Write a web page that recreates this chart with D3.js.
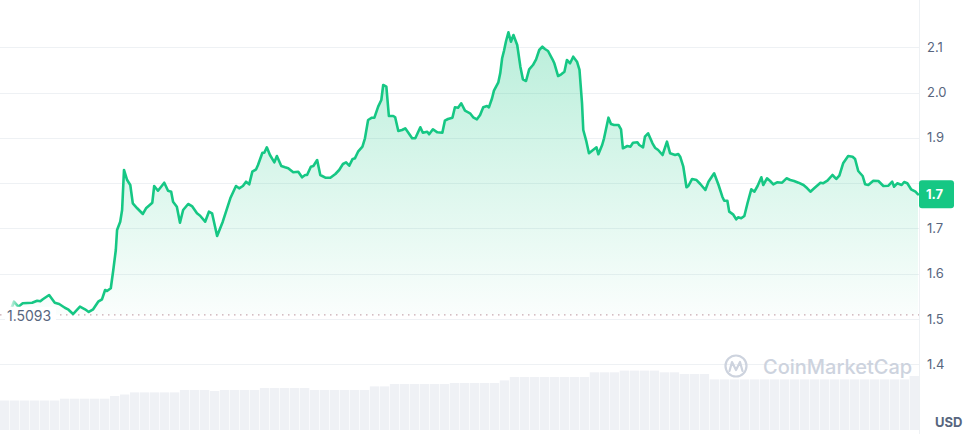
<!DOCTYPE html>
<html><head><meta charset="utf-8">
<script src="https://cdn.jsdelivr.net/npm/d3@7"></script>
<style>html,body{margin:0;padding:0;background:#fff;overflow:hidden}svg{display:block;font-family:Inter,"Noto Sans",sans-serif}</style>
</head><body><svg id="c" width="970" height="434"></svg>
<script>
// minutes since start of the 24h window
const times = [0,3,10,17,32,40,45,49,59,68,75,84,89,97,108,116,122,129,137,143,148,151,157,161,165,167,172,175,178,183,188,192,199,208,213,223,226,232,242,248,253,256,262,267,272,280,286,294,299,307,313,318,326,335,347,
356,361,367,372,377,382,388,391,398,401,405,410,417,421,428,434,439,447,455,461,466,469,475,479,485,490,498,506,514,520,526,531,536,541,545,550,557,561,566,572,576,582,587,590,595,599,606,609,614,620,625,630,636,641,649,653,660,663,669,676,684,
688,693,700,704,709,714,720,728,733,739,744,749,755,758,763,766,773,776,779,782,785,789,793,797,803,808,812,817,822,828,833,838,843,847,852,859,862,868,873,878,882,887,892,898,902,906,908,913,917,922,929,932,938,941,948,952,957,964,968,971,978,983,987,994,997,1003,1006,1011,1018,1022,1027,1034,1041,1046,1054,1059,1062,
1067,1072,1075,1081,1088,1094,1102,1107,1113,1116,1123,1129,1132,1137,1140,1146,1151,1154,1159,1164,1169,1175,1180,1185,1191,1194,1200,1205,1210,1216,1224,1231,1237,1243,1250,1258,1264,1269,1275,1285,1289,1296,1304,1310,1315,1321,1329,1336,1340,1345,1352,1356,1361,1369,1377,1385,1393,1399,1402,1407,1414,1418,1423,1429,1436,1440];
// price in USD
const prices = [1.5272,1.5382,1.5272,1.5347,1.5360,1.5404,1.5391,1.5435,1.5530,1.5360,1.5331,1.5249,1.5214,1.5110,1.5272,1.5214,1.5155,1.5214,1.5382,1.5435,1.5640,1.5618,1.5678,1.6082,1.6523,1.6965,1.7148,1.7406,1.8289,1.8068,1.7958,1.7554,1.7444,1.7318,1.7444,1.7567,1.7936,1.7832,1.8009,1.7832,1.7810,1.7589,1.7479,1.7126,1.7406,1.7539,1.7494,1.7333,1.7280,1.7148,1.7369,1.7333,1.6832,1.7148,1.7664,
1.7936,1.7885,1.7936,1.8031,1.7973,1.8252,1.8305,1.8400,1.8671,1.8671,1.8790,1.8620,1.8459,1.8598,1.8378,1.8349,1.8327,1.8238,1.8252,1.8128,1.8179,1.8179,1.8362,1.8378,1.8510,1.8179,1.8119,1.8119,1.8201,1.8289,1.8422,1.8459,1.8384,1.8525,1.8547,1.8693,1.8804,1.8989,1.9393,1.9444,1.9444,1.9687,1.9834,2.0166,2.0128,1.9481,1.9481,1.9453,1.9150,1.9172,1.9210,1.9113,1.8989,1.8989,1.9232,1.9113,1.9135,1.9077,1.9188,1.9121,1.9113,
1.9378,1.9415,1.9444,1.9673,1.9665,1.9762,1.9598,1.9541,1.9453,1.9408,1.9503,1.9673,1.9702,1.9673,1.9872,2.0040,2.0225,2.0424,2.0755,2.0923,2.1121,2.1329,2.1121,2.1269,2.1049,2.0570,2.0291,2.0254,2.0512,2.0607,2.0733,2.0938,2.1011,2.0960,2.0916,2.0733,2.0645,2.0364,2.0402,2.0459,2.0717,2.0645,2.0790,2.0680,2.0497,1.9762,1.9172,1.8914,1.8658,1.8715,1.8790,1.8636,1.8841,1.8989,1.9444,1.9305,1.9283,1.9283,1.9188,1.8768,1.8819,1.8804,1.8892,1.8901,1.8841,1.8790,1.9024,1.9099,1.8879,1.8781,1.8731,1.8620,1.8914,1.8658,1.8620,1.8642,1.8583,
1.8362,1.7907,1.7936,1.8091,1.8068,1.7980,1.7848,1.8031,1.8157,1.8216,1.7958,1.7700,1.7611,1.7611,1.7369,1.7311,1.7201,1.7245,1.7223,1.7274,1.7554,1.7863,1.7810,1.7936,1.8128,1.7958,1.8106,1.8046,1.7973,1.8018,1.8009,1.8106,1.8068,1.8046,1.8009,1.7958,1.7885,1.7810,1.7885,1.8009,1.7996,1.8053,1.8179,1.8091,1.8163,1.8437,1.8598,1.8583,1.8532,1.8267,1.8157,1.7973,1.7958,1.8053,1.8046,1.7936,1.7943,1.8031,1.7921,1.7996,1.7958,1.8024,1.7996,1.7863,1.7810,1.7753];
// volume bars (millions USD), one per bin
const volumes = [29.5,29.5,29.5,29.5,29.5,29.5,31.3,31.3,31.3,31.3,31.3,34,35.5,37.6,37.6,37.6,37.6,37.6,40,40,40,39,40,40,40,40,42,42,42,42,42,40,40,40,40,40,40,43.6,43.6,46,46,46,46,46,46,47,47,47,47,47,49.6,53,53,53,53,53,53,53,53,57.7,57.7,57.7,59.4,59.4,59.4,59.4,57.7,57.7,56,56,56,50.6,50.6,50.6,50.6,50.6,50.6,50.6,50.6,50.6,50.6,50.6,50.6,50.6,50.6,50.6,50.6,50.6,50.6,50.6,50.6,54];
const yTicks = [1.4,1.5,1.6,1.7,1.8,1.9,2.0,2.1];
const openPrice = 1.5093;
const openLabel = "1.5093";
const lastLabel = "1.7";
const currency = "USD";
const watermark = "CoinMarketCap";

const W = 970, H = 434, plotR = 919;
const GREEN = "#16c784", GREY = "#58667e", GRID = "#eef1f4";
const svg = d3.select("#c");
const data = times.map((t,i)=>({t, p: prices[i]}));

const x = d3.scaleLinear().domain([0,1440]).range([12,918]);
const y = d3.scaleLinear().domain([1.4,2.1]).range([364.3,47.2]);
const xv = d3.scaleBand().domain(d3.range(volumes.length)).range([0,plotR]).paddingInner(0.06);
const yv = d3.scaleLinear().domain([0,60]).range([430,370]);

const defs = svg.append("defs");
const ag = defs.append("linearGradient").attr("id","ag").attr("gradientUnits","userSpaceOnUse")
  .attr("x1",0).attr("x2",0).attr("y1",y(d3.max(prices))).attr("y2",y(openPrice));
ag.append("stop").attr("offset",0).attr("stop-color",GREEN).attr("stop-opacity",0.3);
ag.append("stop").attr("offset",1).attr("stop-color",GREEN).attr("stop-opacity",0.02);
const lg = defs.append("linearGradient").attr("id","lg").attr("gradientUnits","userSpaceOnUse")
  .attr("x1",x(0)).attr("x2",x(14)).attr("y1",0).attr("y2",0);
lg.append("stop").attr("offset",0).attr("stop-color",GREEN).attr("stop-opacity",0.3);
lg.append("stop").attr("offset",1).attr("stop-color",GREEN).attr("stop-opacity",1);

// volume bars
svg.append("g").selectAll("rect").data(volumes).join("rect")
  .attr("x",(d,i)=>xv(i)).attr("width",xv.bandwidth())
  .attr("y",d=>yv(d)).attr("height",d=>yv(0)-yv(d)).attr("fill","#eff1f5");

// grid
svg.append("g").selectAll("line").data(yTicks).join("line")
  .attr("x1",0).attr("x2",plotR).attr("y1",d=>Math.round(y(d))+0.5).attr("y2",d=>Math.round(y(d))+0.5)
  .attr("stroke",GRID).attr("stroke-width",1);
svg.append("line").attr("x1",plotR+0.5).attr("x2",plotR+0.5).attr("y1",0).attr("y2",H)
  .attr("stroke",GRID);

// watermark
const wm = svg.append("g").attr("fill","none").attr("stroke","#cdd3de").attr("stroke-width",2.2).attr("stroke-linecap","round").attr("stroke-linejoin","round");
wm.append("circle").attr("cx",736).attr("cy",366).attr("r",10.5);
wm.append("path").attr("d","M729.5,371 L732,362 L736,370 L740,362 L742.5,371");
svg.append("text").attr("x",763).attr("y",374).attr("font-size",20).attr("font-weight",500)
  .attr("fill","#cdd3de").text(watermark);

// area + line
const area = d3.area().x(d=>x(d.t)).y0(y(openPrice)).y1(d=>y(d.p)).curve(d3.curveLinear);
const line = d3.line().x(d=>x(d.t)).y(d=>y(d.p)).curve(d3.curveLinear);
svg.append("path").datum(data).attr("d",area).attr("fill","url(#ag)");

// baseline dotted
svg.append("line").attr("x1",0).attr("x2",plotR).attr("y1",y(openPrice)).attr("y2",y(openPrice))
  .attr("stroke","#c7a9b0").attr("stroke-width",1.2).attr("stroke-dasharray","1.5,4.5");

svg.append("path").datum(data).attr("d",line).attr("fill","none").attr("stroke","url(#lg)")
  .attr("stroke-width",2.6).attr("stroke-linejoin","round").attr("stroke-linecap","round");

// open label
svg.append("rect").attr("x",5).attr("y",y(openPrice)-8).attr("width",51).attr("height",17).attr("fill","#fff");
svg.append("text").attr("x",7).attr("y",y(openPrice)+1).attr("dy","0.35em").attr("font-size",14)
  .attr("fill",GREY).text(openLabel);

// right axis
const last = data[data.length-1];
const ax = svg.append("g").attr("transform",`translate(${plotR},0)`)
  .call(d3.axisRight(y).tickValues(yTicks).tickFormat(d3.format(".1f")).tickSize(0).tickPadding(8));
ax.select(".domain").remove();
ax.selectAll("text").attr("font-size",13).attr("fill",GREY).attr("font-family","Inter, sans-serif");
// the last-price badge hides the tick label it covers
ax.selectAll(".tick").filter(d=>Math.abs(y(d)-y(last.p))<20).remove();

// last price badge
svg.append("rect").attr("x",plotR).attr("y",y(last.p)-14).attr("width",35).attr("height",28).attr("rx",3).attr("fill",GREEN);
svg.append("text").attr("x",plotR+7).attr("y",y(last.p)).attr("dy","0.36em").attr("font-size",13).attr("font-weight",700)
  .attr("fill","#fff").text(lastLabel);

// currency
svg.append("text").attr("x",935).attr("y",427).attr("font-size",13).attr("font-weight",700).attr("fill",GREY).text(currency);
</script></body></html>
